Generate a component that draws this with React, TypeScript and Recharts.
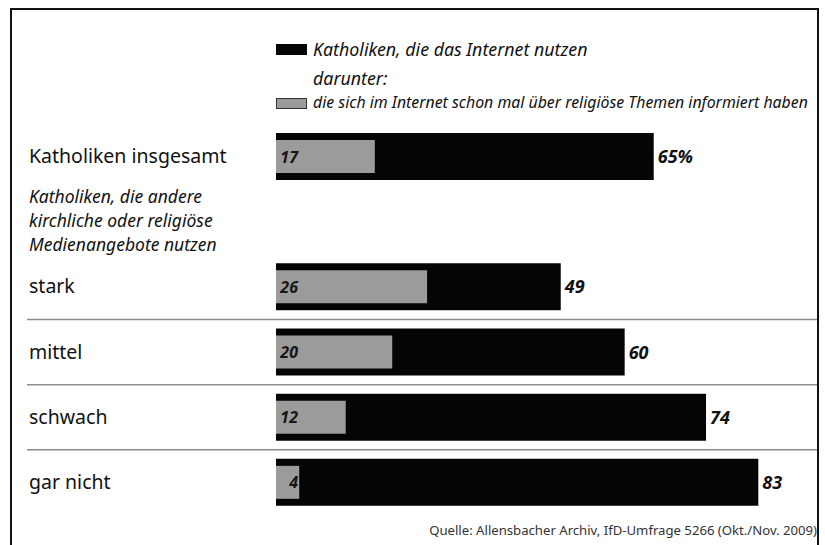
import React from 'react';
import { BarChart, Bar, XAxis, YAxis, LabelList, Legend } from 'recharts';

const categories = [
  'Katholiken insgesamt',
  'Katholiken, die andere kirchliche oder religiöse Medienangebote nutzen',
  'stark',
  'mittel',
  'schwach',
  'gar nicht',
];
const subtitleLines = ['Katholiken, die andere', 'kirchliche oder religiöse', 'Medienangebote nutzen'];
const internetUsers: (number | null)[] = [65, null, 49, 60, 74, 83];
const religiousInfo: (number | null)[] = [17, null, 26, 20, 12, 4];
const legendLabels = [
  'Katholiken, die das Internet nutzen',
  'darunter:',
  'die sich im Internet schon mal über religiöse Themen informiert haben',
];
const separatedCategories = ['mittel', 'schwach', 'gar nicht'];
const sourceText = 'Quelle: Allensbacher Archiv, IfD-Umfrage 5266 (Okt./Nov. 2009)';

const data = categories.map((label, i) => ({
  label,
  internet: internetUsers[i],
  religious: religiousInfo[i],
}));

const W = 825;
const H = 545;
const MARGIN = { top: 124, right: 26, bottom: 30, left: 28 };
const Y_AXIS_W = 248;
const BAND = (H - MARGIN.top - MARGIN.bottom) / categories.length;
const FONT = '"Noto Sans", "DejaVu Sans", sans-serif';
const BLACK = '#050505';
const GREY = '#9b9b9b';

const CategoryTick = (props: any) => {
  const { y, payload } = props;
  const label = payload?.value;
  if (label === categories[1]) {
    return (
      <g>
        {subtitleLines.map((line, i) => (
          <text
            key={i}
            x={29}
            y={y + (i - 1) * 24 + 5}
            fontFamily={FONT}
            fontStyle="italic"
            fontSize={17.5}
            fill="#111"
          >
            {line}
          </text>
        ))}
      </g>
    );
  }
  return (
    <g>
      {separatedCategories.includes(label) && (
        <line x1={27} x2={818} y1={y - BAND / 2} y2={y - BAND / 2} stroke="#8c8c8c" strokeWidth={1.5} />
      )}
      <text x={29} y={y + 6.5} fontFamily={FONT} fontSize={19.5} fill="#111">
        {label}
      </text>
    </g>
  );
};

const TotalLabel = (props: any) => {
  const { value, index } = props;
  if (value == null) return null;
  const vb = props.viewBox && props.viewBox.width != null ? props.viewBox : props;
  const x = vb.x + vb.width + 4;
  const y = vb.y + vb.height / 2 + 6.5;
  return (
    <text x={x} y={y} fontFamily={FONT} fontStyle="italic" fontWeight={700} fontSize={18} fill="#111">
      {value}
      {index === 0 ? '%' : ''}
    </text>
  );
};

const ShareLabel = (props: any) => {
  const { value } = props;
  if (value == null) return null;
  const vb = props.viewBox && props.viewBox.width != null ? props.viewBox : props;
  const x = vb.x + 22;
  const y = vb.y + vb.height / 2 + 6;
  return (
    <text x={x} y={y} textAnchor="end" fontFamily={FONT} fontStyle="italic" fontWeight={700} fontSize={16} fill="#161616">
      {value}
    </text>
  );
};

const LegendContent = () => (
  <svg width={W} height={MARGIN.top} style={{ display: 'block' }}>
    <rect x={276} y={44} width={31} height={11} fill={BLACK} />
    <text x={313} y={56} fontFamily={FONT} fontStyle="italic" fontSize={17.8} fill="#111">
      {legendLabels[0]}
    </text>
    <text x={313} y={85} fontFamily={FONT} fontStyle="italic" fontSize={17.8} fill="#111">
      {legendLabels[1]}
    </text>
    <rect x={276.5} y={98.5} width={30} height={10} fill={GREY} stroke="#333" strokeWidth={1} />
    <text x={313} y={108} fontFamily={FONT} fontStyle="italic" fontSize={15.85} fill="#111">
      {legendLabels[2]}
    </text>
  </svg>
);

export default function App() {
  return (
    <div style={{ position: 'absolute', left: 0, top: 0, width: W, height: H, overflow: 'hidden', background: '#fff' }}>
      <BarChart width={W} height={H} data={data} layout="vertical" margin={MARGIN}>
        <XAxis type="number" domain={[0, 90]} hide />
        <YAxis
          yAxisId="main"
          type="category"
          dataKey="label"
          width={Y_AXIS_W}
          axisLine={false}
          tickLine={false}
          interval={0}
          tick={<CategoryTick />}
        />
        <YAxis yAxisId="overlay" type="category" dataKey="label" hide />
        <Legend
          layout="horizontal"
          verticalAlign="middle"
          align="center"
          content={<LegendContent />}
          wrapperStyle={{ left: 0, top: 0, width: W, height: MARGIN.top }}
        />
        <Bar yAxisId="main" dataKey="internet" fill={BLACK} barSize={47} isAnimationActive={false}>
          <LabelList dataKey="internet" content={<TotalLabel />} />
        </Bar>
        <Bar yAxisId="overlay" dataKey="religious" fill={GREY} barSize={33} isAnimationActive={false}>
          <LabelList dataKey="religious" content={<ShareLabel />} />
        </Bar>
      </BarChart>
      <svg width={W} height={H} style={{ position: 'absolute', left: 0, top: 0, pointerEvents: 'none' }}>
        <line x1={10} x2={819} y1={9} y2={9} stroke="#111" strokeWidth={2} />
        <line x1={11} x2={11} y1={8} y2={H} stroke="#111" strokeWidth={2} />
        <line x1={818} x2={818} y1={8} y2={H} stroke="#111" strokeWidth={2} />
        <text x={817} y={535} textAnchor="end" fontFamily={FONT} fontSize={13.15} fill="#333">
          {sourceText}
        </text>
      </svg>
    </div>
  );
}
